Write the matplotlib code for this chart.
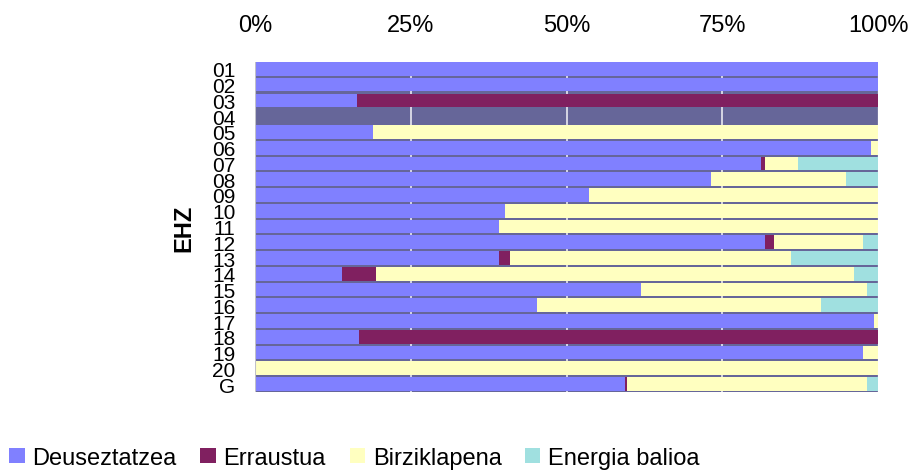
import matplotlib
matplotlib.use("Agg")
import matplotlib.pyplot as plt
import numpy as np

categories = ["01", "02", "03", "04", "05", "06", "07", "08", "09", "10",
              "11", "12", "13", "14", "15", "16", "17", "18", "19", "20", "G"]
series_names = ["Deuseztatzea", "Erraustua", "Birziklapena", "Energia balioa"]
deuseztatzea = [1.000, 1.000, 0.163, 0.0, 0.189, 0.988, 0.813, 0.732, 0.536, 0.402,
                0.391, 0.818, 0.391, 0.139, 0.620, 0.453, 0.994, 0.167, 0.976, 0.0, 0.594]
erraustua = [0.0, 0.0, 0.837, 0.0, 0.0, 0.0, 0.005, 0.0, 0.0, 0.0,
             0.0, 0.015, 0.019, 0.055, 0.0, 0.0, 0.0, 0.833, 0.0, 0.0, 0.003]
birziklapena = [0.0, 0.0, 0.0, 0.0, 0.811, 0.012, 0.053, 0.216, 0.464, 0.598,
                0.609, 0.143, 0.451, 0.768, 0.363, 0.455, 0.006, 0.0, 0.024, 1.0, 0.386]
energia = [0.0, 0.0, 0.0, 0.0, 0.0, 0.0, 0.129, 0.052, 0.0, 0.0,
           0.0, 0.024, 0.139, 0.038, 0.017, 0.092, 0.0, 0.0, 0.0, 0.0, 0.017]
xticklabels = ["0%", "25%", "50%", "75%", "100%"]
colors = ["#8080FF", "#802060", "#FFFFC0", "#A0E0E0"]

plt.rcParams['font.family'] = ['Liberation Sans', 'DejaVu Sans']

fig = plt.figure(figsize=(9.10, 4.77), dpi=100)
ax = fig.add_axes([255/910, 1-393/477, 623/910, (393-63)/477])
ax.set_facecolor("#666699")

y = np.arange(len(categories))
left = np.zeros(len(categories))
for name, vals, c in zip(series_names, [deuseztatzea, erraustua, birziklapena, energia], colors):
    vals = np.array(vals)
    ax.barh(y, vals, left=left, height=0.87, color=c, label=name, zorder=3, linewidth=0)
    left += vals

ax.set_xlim(0, 1)
ax.set_ylim(len(categories) - 0.5, -0.435)
for xv in [0.25, 0.5, 0.75]:
    ax.axvline(xv, color="#E8E8F0", lw=1.2, zorder=2)
for s in ["top", "right", "bottom", "left"]:
    ax.spines[s].set_visible(False)
ax.axvline(0, color="#C0C0C8", lw=1.5, zorder=4)
ax.axvline(1, color="#C0C0C8", lw=1.0, zorder=1)

ax.xaxis.tick_top()
ax.set_xticks([0, 0.25, 0.5, 0.75, 1.0])
ax.set_xticklabels(xticklabels, fontsize=17)
ax.set_yticks(y)
ax.set_yticklabels(categories, fontsize=15)
ax.tick_params(axis="both", length=0)
ax.tick_params(axis="x", pad=19)
ax.tick_params(axis="y", pad=14)
ax.set_ylabel("EHZ", fontsize=17, fontweight="bold", labelpad=12)

handles, labels = ax.get_legend_handles_labels()
fig.legend(handles, labels, loc="lower left", bbox_to_anchor=(0.0, -0.005), ncol=4,
           frameon=False, fontsize=17, handlelength=0.64, handleheight=0.64,
           handletextpad=0.34, columnspacing=1.0, borderaxespad=0.1, borderpad=0.3)

fig.savefig("out.png", dpi=100)
